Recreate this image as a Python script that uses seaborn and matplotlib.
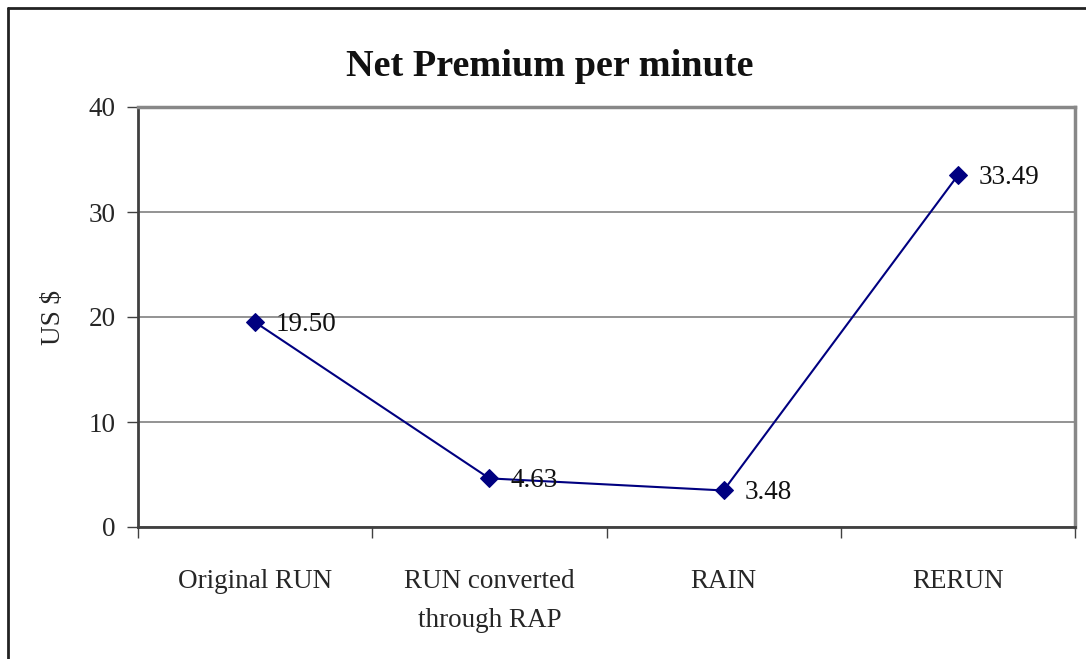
import matplotlib
matplotlib.use("Agg")
import matplotlib.pyplot as plt
from matplotlib.lines import Line2D
import seaborn as sns
import pandas as pd

categories = ["Original RUN", "RUN converted\nthrough RAP", "RAIN", "RERUN"]
values = [19.50, 4.63, 3.48, 33.49]
y_ticks = [0, 10, 20, 30, 40]

sns.set_theme(style="white")
plt.rcParams["font.family"] = ["Liberation Serif", "DejaVu Serif"]

W, H = 1086, 659
fig = plt.figure(figsize=(W / 100, H / 100), dpi=100)
ax = fig.add_axes([138 / W, 1 - 527 / H, (1075 - 138) / W, (527 - 107) / H])

df = pd.DataFrame({"pos": range(len(categories)), "value": values})
sns.lineplot(data=df, x="pos", y="value", ax=ax, color="#000080", lw=1.5,
             marker="D", markersize=9.5, markeredgecolor="#000080", sort=False)

for x, v in zip(df["pos"], df["value"]):
    ax.annotate(f"{v:.2f}", (x, v), xytext=(15, -1.5), textcoords="offset points",
                ha="left", va="center", fontsize=19.5, color="#111111")

ax.set_xlim(-0.5, len(categories) - 0.5)
ax.set_ylim(0, 40)
ax.set_yticks(y_ticks)
ax.set_yticklabels([str(t) for t in y_ticks], fontsize=19.5)
ax.yaxis.grid(True, color="#808080", lw=1.2)
ax.set_axisbelow(True)

# category labels centred in each slot, ticks on the slot boundaries
ax.set_xticks([i - 0.5 for i in range(len(categories) + 1)])
ax.set_xticklabels([])
ax.set_xticks(range(len(categories)), minor=True)
ax.set_xticklabels(categories, minor=True, fontsize=19.5, linespacing=1.75)
ax.tick_params(axis="x", which="minor", length=0, pad=30)
ax.tick_params(axis="x", which="major", direction="out", length=8, width=1,
               color="#404040", bottom=True)
ax.tick_params(axis="y", direction="out", length=8, width=1, color="#404040",
               left=True, pad=8)

ax.set_xlabel("")
ax.set_ylabel("US $", fontsize=19.5, labelpad=16)

for side in ["top", "right"]:
    ax.spines[side].set_color("#888888")
    ax.spines[side].set_linewidth(2.5)
for side in ["left", "bottom"]:
    ax.spines[side].set_color("#404040")
    ax.spines[side].set_linewidth(2)

fig.text(550 / W, 1 - 66 / H, "Net Premium per minute", ha="center", va="center",
         fontsize=27.5, fontweight="bold", color="#111111")

# outer frame: left and top edges of the chart area
fig.add_artist(Line2D([7.5 / W, 7.5 / W], [0, 1 - 8 / H], transform=fig.transFigure,
                      color="#222222", lw=2))
fig.add_artist(Line2D([7.5 / W, 1], [1 - 8 / H, 1 - 8 / H], transform=fig.transFigure,
                      color="#222222", lw=2))

fig.savefig("out.png", dpi=100)
